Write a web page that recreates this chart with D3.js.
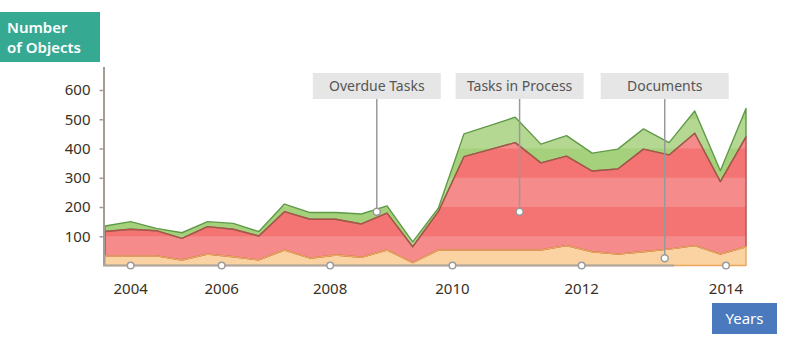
<!DOCTYPE html>
<html>
<head>
<meta charset="utf-8">
<script src="https://cdn.jsdelivr.net/npm/d3@7"></script>
<style>
  body { margin: 0; background: #fff; }
  svg text { font-family: "Noto Sans", sans-serif; }
</style>
</head>
<body>
<div id="chart"></div>
<script>
// values, one per data point (26 points, evenly spaced)
const documents      = [33, 33, 33, 19, 39, 30, 19, 53, 25, 36, 28, 53, 10, 53, 53, 53, 53, 53, 68, 47, 39, 47, 56, 68, 39, 64];
const tasksInProcess = [83, 91, 86, 74, 94, 94, 82, 131, 133, 122, 114, 126, 54, 131, 319, 343, 367, 298, 306, 276, 291, 351, 322, 384, 248, 376];
const overdueTasks   = [19, 26, 8, 19, 17, 20, 15, 26, 23, 23, 34, 25, 17, 12, 78, 82, 87, 64, 70, 61, 68, 69, 42, 76, 37, 97];

// year labels and where they fall along the point index
const yearLabels    = ["2004", "2006", "2008", "2010", "2012", "2014"];
const yearPositions = [1.0, 4.55, 8.78, 13.55, 18.59, 24.22];
const yTicks = [100, 200, 300, 400, 500, 600];

// callouts: label, point index, value
const calloutLabels = ["Overdue Tasks", "Tasks in Process", "Documents"];
const calloutIndex  = [10.6, 16.17, 21.83];
const calloutValue  = [184, 184, 25];

const width = 800, height = 353;

const svg = d3.select("#chart")
    .append("svg")
    .attr("width", width)
    .attr("height", height);

// build the table for d3.stack
const keys = ["documents", "tasks", "overdue"];
const table = documents.map((d, i) => ({
    i: i,
    documents: d,
    tasks: tasksInProcess[i],
    overdue: overdueTasks[i]
}));
const stacked = d3.stack().keys(keys)(table);

const x = d3.scaleLinear().domain([0, documents.length - 1]).range([105, 746]);
const y = d3.scaleLinear().domain([0, 680]).range([265.5, 66.6]);

const fills   = { documents: "#fbc98f", tasks: "#f47474", overdue: "#a5d17c" };
const strokes = { documents: "#e9a65c", tasks: "#b24e4e", overdue: "#5f9a47" };

const area = d3.area()
    .x(d => x(d.data.i))
    .y0(d => y(d[0]))
    .y1(d => y(d[1]));

// filled areas
svg.append("g")
  .selectAll("path")
  .data(stacked)
  .join("path")
    .attr("fill", d => fills[d.key])
    .attr("d", area);

// light horizontal bands every other 100
svg.append("g")
  .selectAll("rect")
  .data(d3.range(0, 700, 200))
  .join("rect")
    .attr("x", x(0))
    .attr("width", x(documents.length - 1) - x(0))
    .attr("y", d => y(Math.min(d + 100, 680)))
    .attr("height", d => y(d) - y(Math.min(d + 100, 680)))
    .attr("fill", "#fff")
    .attr("opacity", 0.17);

// outlines, top series first so lower lines stay visible
svg.append("g")
  .selectAll("path")
  .data(stacked.slice().reverse())
  .join("path")
    .attr("fill", "none")
    .attr("stroke", d => strokes[d.key])
    .attr("stroke-width", 1.4)
    .attr("stroke-linejoin", "round")
    .attr("d", area);

// y axis
const yAxis = svg.append("g")
    .attr("transform", "translate(103.5,0)")
    .call(d3.axisLeft(y).tickValues(yTicks).tickSize(4).tickSizeOuter(0).tickPadding(9));
yAxis.select(".domain").attr("stroke", "#a39d96").attr("stroke-width", 2);
yAxis.selectAll(".tick line").attr("stroke", "#a39d96").attr("stroke-width", 1.5);
yAxis.selectAll(".tick text")
    .attr("font-size", 15)
    .attr("fill", "#3a3124")
    .style("font-family", "'Noto Sans', sans-serif");

// x axis line (gray part)
svg.append("line")
    .attr("x1", 103)
    .attr("x2", x(22.2))
    .attr("y1", y(0))
    .attr("y2", y(0))
    .attr("stroke", "#aaa6a2")
    .attr("stroke-width", 2);

// year ticks: small circles on the axis and labels underneath
const years = svg.append("g")
  .selectAll("g")
  .data(yearLabels)
  .join("g")
    .attr("transform", (d, i) => `translate(${x(yearPositions[i])},${y(0)})`);
years.append("circle")
    .attr("r", 3.3)
    .attr("fill", "#fff")
    .attr("stroke", "#9d9d9d")
    .attr("stroke-width", 1.5);
years.append("text")
    .attr("y", 28)
    .attr("text-anchor", "middle")
    .attr("font-size", 15)
    .attr("fill", "#3a3124")
    .text(d => d);

// callouts with leader lines
const callouts = svg.append("g")
  .selectAll("g")
  .data(calloutLabels)
  .join("g")
    .attr("transform", (d, i) => `translate(${x(calloutIndex[i])},0)`);
callouts.append("line")
    .attr("y1", 99)
    .attr("y2", (d, i) => y(calloutValue[i]))
    .attr("stroke", "#999")
    .attr("stroke-width", 1.5);
callouts.append("rect")
    .attr("x", -64)
    .attr("y", 73)
    .attr("width", 128)
    .attr("height", 26)
    .attr("fill", "#e6e6e6");
callouts.append("text")
    .attr("y", 91)
    .attr("text-anchor", "middle")
    .attr("font-size", 14)
    .attr("fill", "#555")
    .text(d => d);
callouts.append("circle")
    .attr("cy", (d, i) => y(calloutValue[i]))
    .attr("r", 3.5)
    .attr("fill", "#fff")
    .attr("stroke", "#999")
    .attr("stroke-width", 1.5);

// axis titles
svg.append("rect")
    .attr("x", 0).attr("y", 12)
    .attr("width", 100).attr("height", 50)
    .attr("fill", "#36a993");
svg.append("text")
    .attr("x", 7).attr("y", 33)
    .attr("font-size", 15)
    .attr("font-weight", 600)
    .attr("fill", "#fff")
    .text("Number");
svg.append("text")
    .attr("x", 7).attr("y", 53)
    .attr("font-size", 15)
    .attr("font-weight", 600)
    .attr("fill", "#fff")
    .text("of Objects");

svg.append("rect")
    .attr("x", 712).attr("y", 303)
    .attr("width", 65).attr("height", 31)
    .attr("fill", "#4a7abd");
svg.append("text")
    .attr("x", 744.5).attr("y", 324)
    .attr("text-anchor", "middle")
    .attr("font-size", 15)
    .attr("fill", "#fff")
    .text("Years");
</script>
</body>
</html>
